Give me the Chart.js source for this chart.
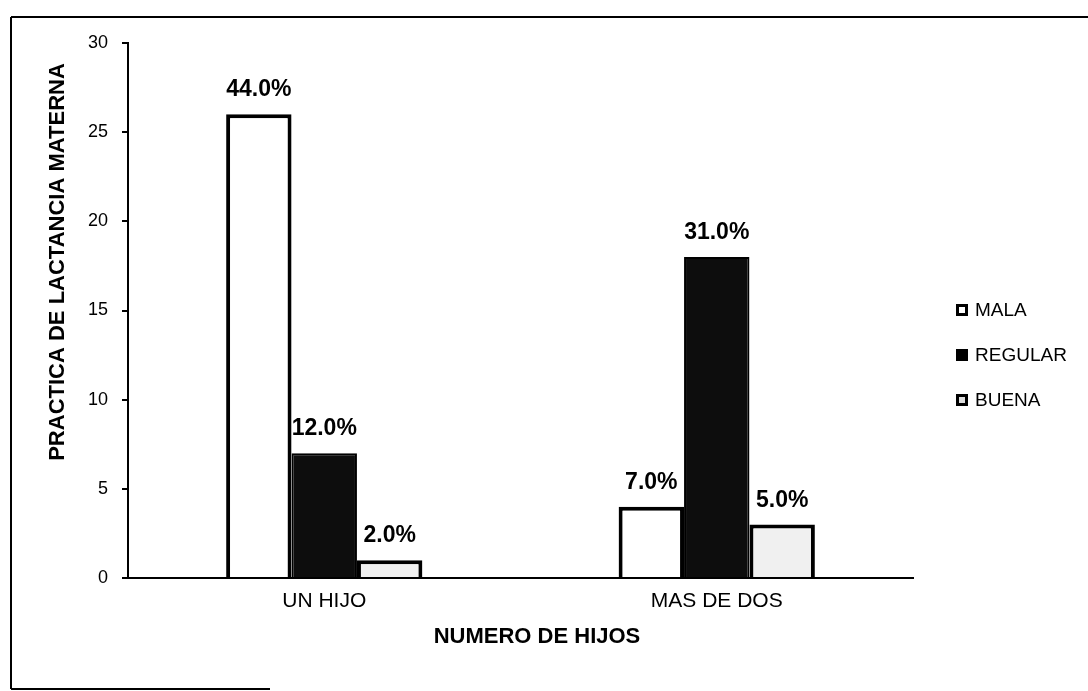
<!DOCTYPE html>
<html>
<head>
<meta charset="utf-8">
<script src="https://cdn.jsdelivr.net/npm/chart.js@4.4.1/dist/chart.umd.min.js"></script>
<style>
  html, body { margin: 0; padding: 0; background: #fff; }
  #wrap { width: 1088px; height: 691px; position: relative; }
</style>
</head>
<body>
<div id="wrap"><canvas id="c" width="1088" height="691"></canvas></div>
<script>
const categories = ['UN HIJO', 'MAS DE DOS'];
const seriesNames = ['MALA', 'REGULAR', 'BUENA'];
const malaValues = [26, 4];
const regularValues = [7, 18];
const buenaValues = [1, 3];
const malaLabels = ['44.0%', '7.0%'];
const regularLabels = ['12.0%', '31.0%'];
const buenaLabels = ['2.0%', '5.0%'];
const yMin = 0, yMax = 30, yStep = 5;
const xTitle = 'NUMERO DE HIJOS';
const yTitle = 'PRACTICA DE LACTANCIA MATERNA';

const FONT = "'Liberation Sans', Arial, sans-serif";

const extrasPlugin = {
  id: 'extras',
  beforeDraw(chart) {
    const ctx = chart.ctx;
    ctx.save();
    ctx.fillStyle = '#fff';
    ctx.fillRect(0, 0, chart.width, chart.height);
    ctx.strokeStyle = '#000';
    ctx.lineWidth = 2;
    ctx.beginPath();
    ctx.moveTo(11, 17); ctx.lineTo(1088, 17);
    ctx.moveTo(11, 17); ctx.lineTo(11, 689);
    ctx.moveTo(11, 689); ctx.lineTo(270, 689);
    ctx.stroke();
    ctx.restore();
  },
  afterDatasetsDraw(chart) {
    const ctx = chart.ctx;
    const labelSets = [malaLabels, regularLabels, buenaLabels];
    ctx.save();
    ctx.fillStyle = '#000';
    ctx.font = 'bold 23px ' + FONT;
    ctx.textAlign = 'center';
    ctx.textBaseline = 'alphabetic';
    chart.data.datasets.forEach((ds, di) => {
      const meta = chart.getDatasetMeta(di);
      meta.data.forEach((bar, i) => {
        ctx.fillText(labelSets[di][i], bar.x, bar.y - 18);
      });
    });
    // axis titles
    ctx.font = 'bold 22px ' + FONT;
    ctx.textAlign = 'center';
    ctx.fillText(xTitle, 537, 643);
    ctx.save();
    ctx.translate(64, 262);
    ctx.rotate(-Math.PI / 2);
    ctx.fillText(yTitle, 0, 0);
    ctx.restore();
    // legend
    ctx.font = '19px ' + FONT;
    ctx.textAlign = 'left';
    ctx.textBaseline = 'middle';
    const rows = [310, 355, 400];
    chart.data.datasets.forEach((ds, di) => {
      const y = rows[di];
      ctx.fillStyle = ds.legendFill;
      ctx.fillRect(956, y - 6, 12, 12);
      ctx.strokeStyle = '#000';
      ctx.lineWidth = 3;
      ctx.strokeRect(957.5, y - 4.5, 9, 9);
      ctx.fillStyle = '#000';
      ctx.fillText(ds.label, 975, y + 1);
    });
    ctx.restore();
  }
};

new Chart(document.getElementById('c'), {
  type: 'bar',
  data: {
    labels: categories,
    datasets: [
      { label: seriesNames[0], data: malaValues, backgroundColor: '#ffffff', borderColor: '#000', borderWidth: 4, legendFill: '#ffffff' },
      { label: seriesNames[1], data: regularValues, backgroundColor: '#0d0d0d', borderColor: '#000', borderWidth: 2, legendFill: '#000000' },
      { label: seriesNames[2], data: buenaValues, backgroundColor: '#f0f0f0', borderColor: '#000', borderWidth: 4, legendFill: '#dddddd' }
    ]
  },
  options: {
    responsive: false,
    animation: false,
    layout: { padding: { left: 0, top: 43, right: 175, bottom: 0 } },
    plugins: { legend: { display: false }, tooltip: { enabled: false } },
    datasets: { bar: { categoryPercentage: 0.5, barPercentage: 1.0 } },
    scales: {
      x: {
        grid: { display: false, drawTicks: false },
        border: { display: true, color: '#000', width: 2 },
        ticks: { color: '#000', font: { family: FONT, size: 21 }, padding: 11, maxRotation: 0 },
        afterFit(scale) { scale.height = 113; }
      },
      y: {
        min: yMin, max: yMax,
        grid: { display: true, drawOnChartArea: false, drawTicks: true, tickLength: 6, color: '#000', lineWidth: 2 },
        border: { display: true, color: '#000', width: 2 },
        ticks: { stepSize: yStep, color: '#000', font: { family: FONT, size: 18 }, padding: 14 },
        afterFit(scale) { scale.width = 128; }
      }
    }
  },
  plugins: [extrasPlugin]
});
</script>
</body>
</html>
